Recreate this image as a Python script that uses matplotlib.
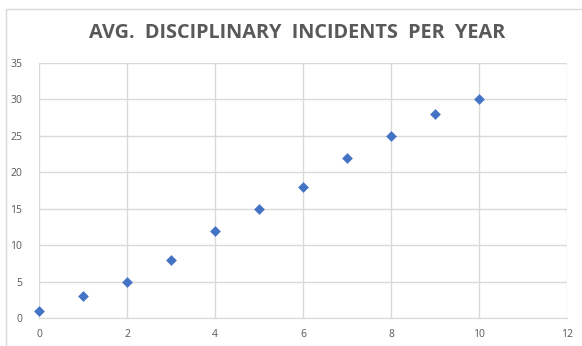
import matplotlib
matplotlib.use("Agg")
import matplotlib.pyplot as plt
from matplotlib.patches import Rectangle

years = [0, 1, 2, 3, 4, 5, 6, 7, 8, 9, 10]
incidents = [1, 3, 5, 8, 12, 15, 18, 22, 25, 28, 30]
x_ticks = [0, 2, 4, 6, 8, 10, 12]
y_ticks = [0, 5, 10, 15, 20, 25, 30, 35]

GRID = "#d9d9d9"
TEXT = "#595959"
BLUE = "#4472c4"

plt.rcParams["font.family"] = ["Open Sans", "DejaVu Sans"]

fig = plt.figure(figsize=(5.82, 3.46), dpi=100)
fig.patches.append(Rectangle((6 / 582, -0.1), 1.2, 1 - 9 / 346 + 0.1,
                             transform=fig.transFigure, fill=False,
                             edgecolor=GRID, linewidth=1.0))

ax = fig.add_axes([39 / 582, 1 - 318 / 346, (567 - 39) / 582, (318 - 63) / 346])
ax.scatter(years, incidents, marker="D", s=30, color=BLUE, zorder=3,
           clip_on=False, linewidths=0)

ax.set_xlim(0, 12)
ax.set_ylim(0, 35)
ax.set_xticks(x_ticks)
ax.set_yticks(y_ticks)
ax.grid(True, color=GRID, linewidth=1.0)
ax.set_axisbelow(True)
for side in ("top", "right", "left"):
    ax.spines[side].set_visible(False)
ax.spines["bottom"].set_color(GRID)
ax.tick_params(length=0, labelsize=7.5, labelcolor=TEXT, pad=8)
ax.tick_params(axis="y", pad=12)

fig.text(0.51, 1 - 33 / 346, "AVG.  DISCIPLINARY  INCIDENTS  PER  YEAR",
         ha="center", va="center", fontsize=14.3, fontweight="bold", color=TEXT)

fig.savefig("out.png", dpi=100)
